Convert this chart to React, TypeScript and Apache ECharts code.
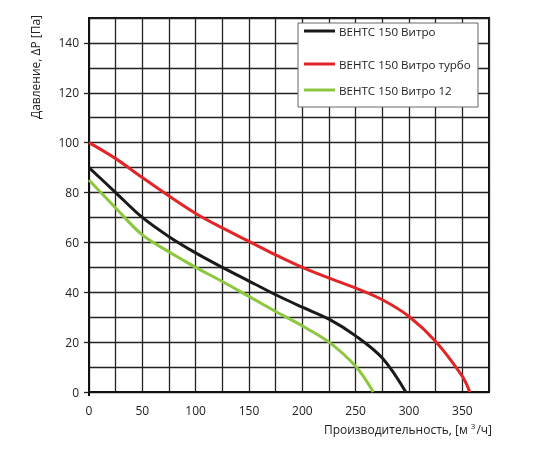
import { useEffect, useRef } from 'react';
import * as echarts from 'echarts';

// расход, м3/ч и давление, Па для каждой модели
const seriesNames = ['ВЕНТС 150 Витро', 'ВЕНТС 150 Витро турбо', 'ВЕНТС 150 Витро 12'];
const seriesColors = ['#1a1a1a', '#e42527', '#8dc63f'];

const blackFlow = [0, 25, 50, 75, 100, 125, 150, 175, 200, 225, 250, 275, 297];
const blackPressure = [90, 80, 70, 62.3, 55.8, 50, 44.5, 39, 34, 29.2, 22.5, 13.6, 0];

const redFlow = [0, 25, 50, 75, 100, 125, 150, 175, 200, 225, 250, 275, 300, 325, 350, 357];
const redPressure = [100, 93.6, 86, 78.6, 71.6, 65.8, 60.4, 55, 50, 45.7, 41.7, 37, 30.3, 20.3, 6.3, 0];

const greenFlow = [0, 25, 50, 75, 100, 125, 150, 175, 200, 225, 250, 266.5];
const greenPressure = [85, 73.8, 63, 56.2, 50, 44.3, 38.3, 32.3, 26.5, 20, 10.3, 0];

const xLabels = [0, 50, 100, 150, 200, 250, 300, 350];
const yLabels = [0, 20, 40, 60, 80, 100, 120, 140];

const legendRows = [33, 66, 92];

const FONT = '"Open Sans", sans-serif';

function pairs(xs: number[], ys: number[]) {
    return xs.map((x, i) => [x, ys[i]]);
}

export default function App() {
    const chartRef = useRef<HTMLDivElement>(null);

    useEffect(() => {
        if (!chartRef.current) return;
        const chart = echarts.init(chartRef.current, undefined, { renderer: 'svg' });

        const data = [
            pairs(blackFlow, blackPressure),
            pairs(redFlow, redPressure),
            pairs(greenFlow, greenPressure),
        ];

        const labelStyle = { color: '#222', fontSize: 12, fontFamily: FONT };
        const gridLine = { show: true, lineStyle: { color: '#222', width: 1.3 } };

        chart.setOption({
            animation: false,
            textStyle: { fontFamily: FONT },
            grid: {
                left: 89,
                right: 61,
                top: 18,
                bottom: 58,
                show: true,
                borderColor: '#111',
                borderWidth: 2,
            },
            xAxis: [
                {
                    // сетка через 25
                    type: 'value',
                    min: 0,
                    max: 375,
                    interval: 25,
                    axisLine: { show: true, onZero: false, lineStyle: { color: '#111', width: 2 } },
                    axisTick: { show: false },
                    axisLabel: { show: false },
                    splitLine: gridLine,
                },
                {
                    // подписи через 50
                    type: 'value',
                    position: 'bottom',
                    min: 0,
                    max: 375,
                    axisLine: { show: false },
                    axisTick: { show: true, customValues: [0], length: 4, lineStyle: { color: '#111', width: 2 } },
                    axisLabel: { customValues: xLabels, margin: 12, ...labelStyle },
                    splitLine: { show: false },
                },
            ],
            yAxis: [
                {
                    type: 'value',
                    min: 0,
                    max: 150,
                    interval: 10,
                    axisLine: { show: true, lineStyle: { color: '#111', width: 2 } },
                    axisTick: { show: false },
                    axisLabel: { show: false },
                    splitLine: gridLine,
                },
                {
                    type: 'value',
                    position: 'left',
                    min: 0,
                    max: 150,
                    axisLine: { show: false },
                    axisTick: { show: true, customValues: yLabels, length: 5, lineStyle: { color: '#222', width: 1.3 } },
                    axisLabel: { customValues: yLabels, margin: 10, ...labelStyle },
                    splitLine: { show: false },
                },
            ],
            graphic: [
                {
                    type: 'rect',
                    z: 5,
                    shape: { x: 298, y: 23, width: 180, height: 84 },
                    style: { fill: '#fff', stroke: '#666', lineWidth: 1 },
                },
                {
                    type: 'text',
                    x: 35,
                    y: 67,
                    rotation: Math.PI / 2,
                    style: {
                        text: 'Давление, ΔP [Па]',
                        fontSize: 12,
                        fontFamily: FONT,
                        fill: '#222',
                        align: 'center',
                        verticalAlign: 'middle',
                    },
                },
                {
                    type: 'text',
                    x: 492,
                    y: 429,
                    style: {
                        text: '{a|Производительность, [м}{s|3}{a|/ч]}',
                        fontFamily: FONT,
                        fill: '#222',
                        align: 'right',
                        verticalAlign: 'middle',
                        rich: {
                            a: { fontSize: 12, fontFamily: FONT, fill: '#222' },
                            s: { fontSize: 8, fontFamily: FONT, fill: '#222', padding: [0, 1, 7, 3] },
                        },
                    },
                },
            ],
            legend: seriesNames.map((name, i) => ({
                data: [name],
                left: 304,
                top: legendRows[i] - 8,
                z: 6,
                icon: 'rect',
                itemWidth: 31,
                itemHeight: 3,
                itemGap: 0,
                padding: 0,
                textStyle: { fontSize: 11.6, color: '#222', fontFamily: FONT, padding: [0, 0, 0, -1] },
            })),
            series: seriesNames.map((name, i) => ({
                name,
                type: 'line',
                xAxisIndex: 0,
                yAxisIndex: 0,
                data: data[i],
                smooth: 0.35,
                showSymbol: false,
                symbol: 'none',
                color: seriesColors[i],
                lineStyle: { color: seriesColors[i], width: 3 },
            })),
        });

        return () => {
            chart.dispose();
        };
    }, []);

    return (
        <div
            ref={chartRef}
            style={{ position: 'fixed', left: 0, top: 0, width: 550, height: 450 }}
        />
    );
}
